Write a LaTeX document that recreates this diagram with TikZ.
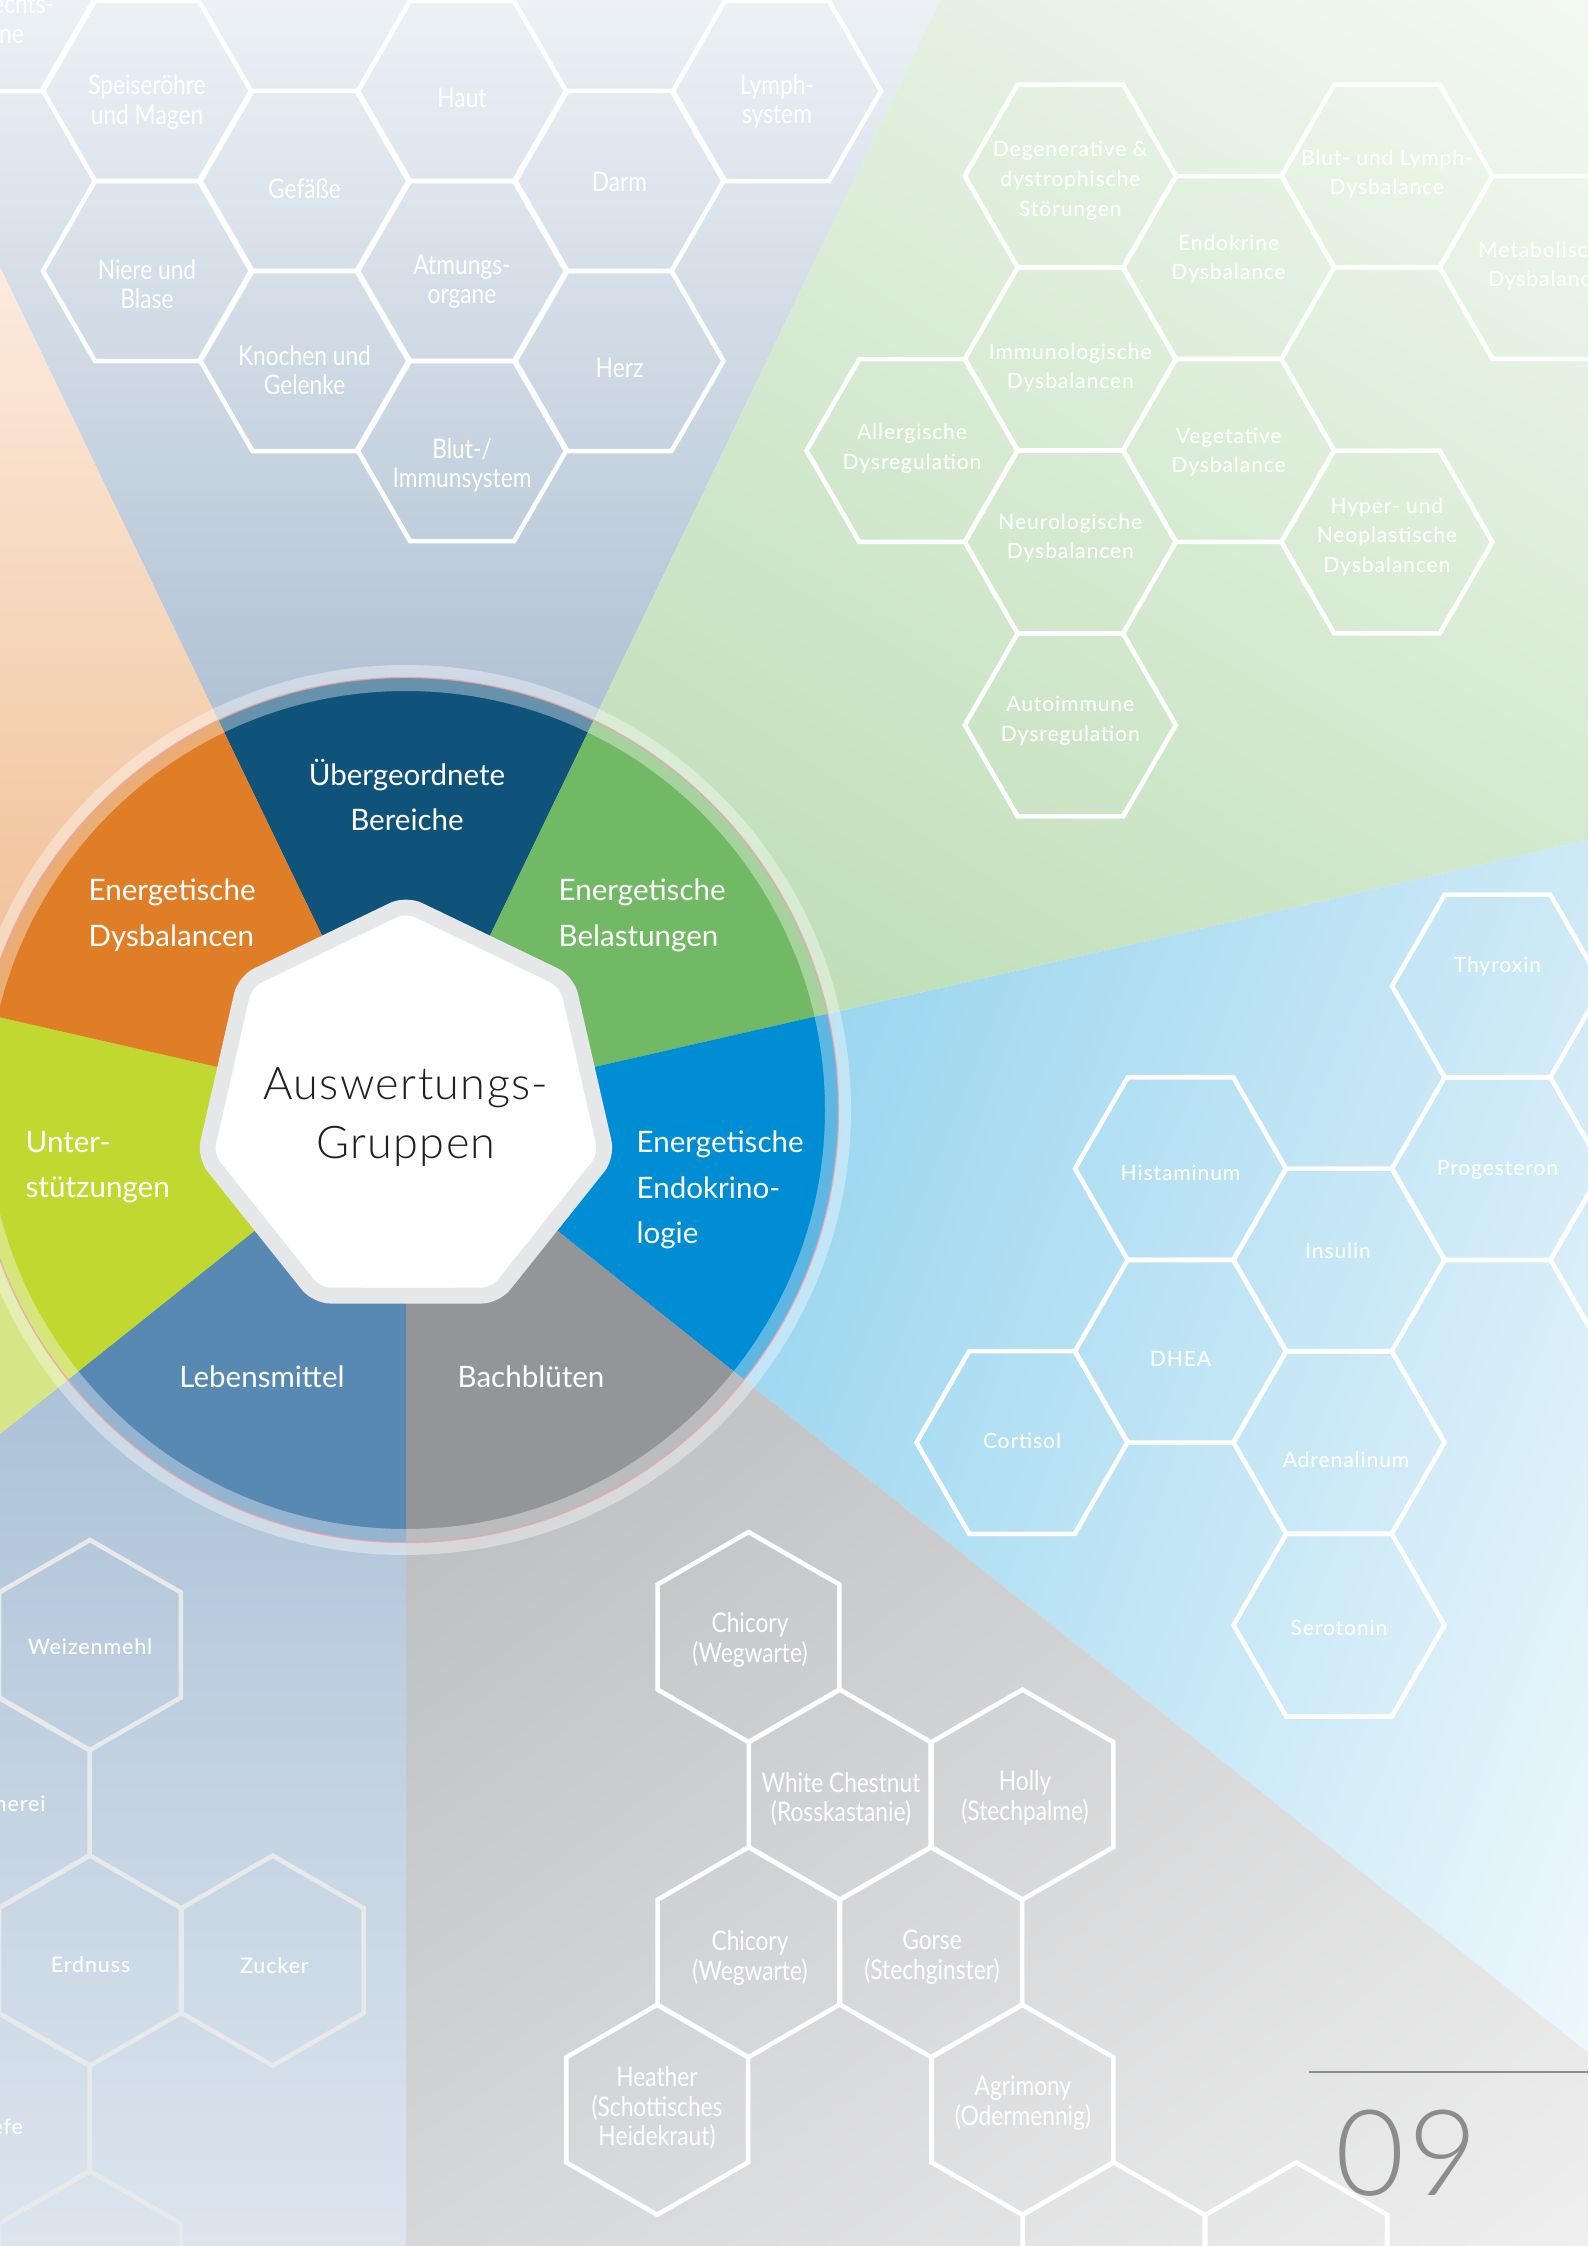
\documentclass[tikz,border=0pt]{standalone}
\usepackage{fontspec}
\setmainfont{Lato}
\newfontfamily\condfont[FakeStretch=0.84]{Lato}
\newfontfamily\widefont[LetterSpace=4]{Lato Medium}
\newfontfamily\thinfont[LetterSpace=3]{Lato Light}
\usepackage{tikz}
\usetikzlibrary{shadings}

\definecolor{segTop}{HTML}{10537A}
\definecolor{segGreen}{HTML}{71B964}
\definecolor{segBlue}{HTML}{018DD4}
\definecolor{segGray}{HTML}{939598}
\definecolor{segSteel}{HTML}{5889B3}
\definecolor{segLime}{HTML}{C1D830}
\definecolor{segOrange}{HTML}{E07E27}
\definecolor{hepGray}{HTML}{E6E7E8}
\definecolor{ringPink}{HTML}{E9A3AB}
\definecolor{numGray}{HTML}{8C8C8C}
\definecolor{foodLine}{HTML}{E9E9EA}
\definecolor{titleInk}{HTML}{231F20}
% background tints
\definecolor{bgTopA}{RGB}{237,241,245}
\definecolor{bgTopB}{RGB}{143,168,194}
\definecolor{bgGreenUL}{RGB}{217,235,213}
\definecolor{bgGreenUR}{RGB}{243,249,242}
\definecolor{bgGreenLL}{RGB}{179,216,170}
\definecolor{bgGreenLR}{RGB}{203,229,197}
\definecolor{bgBlueUL}{RGB}{120,200,235}
\definecolor{bgBlueUR}{RGB}{205,233,246}
\definecolor{bgBlueLL}{RGB}{150,213,240}
\definecolor{bgBlueLR}{RGB}{238,248,252}
\definecolor{bgGrayUL}{RGB}{176,177,179}
\definecolor{bgGrayUR}{RGB}{208,209,210}
\definecolor{bgGrayLL}{RGB}{214,215,217}
\definecolor{bgGrayLR}{RGB}{239,239,239}
\definecolor{bgSteelA}{RGB}{157,183,209}
\definecolor{bgSteelB}{RGB}{220,229,238}
\definecolor{bgLime}{RGB}{214,229,133}
\definecolor{bgOrangeA}{RGB}{252,235,222}
\definecolor{bgOrangeB}{RGB}{238,185,138}

\tikzset{
  hexedge/.style={draw=white, line width=1.3pt, line join=miter},
  foodedge/.style={hexedge, draw=foodLine},
  organtext/.style={text=white, align=center, inner sep=0pt, font=\condfont\fontsize{7.7}{8.3}\selectfont},
  dystext/.style={text=white, align=center, inner sep=0pt, font=\widefont\fontsize{6}{8.5}\selectfont},
  hormtext/.style={text=white, align=center, inner sep=0pt, font=\widefont\fontsize{6}{8.5}\selectfont},
  bachtext/.style={text=white, align=center, inner sep=0pt, font=\condfont\fontsize{7.7}{8.4}\selectfont},
  foodtext/.style={text=white, align=center, inner sep=0pt, font=\widefont\fontsize{6.1}{8.5}\selectfont},
  seglabel/.style={text=white, inner sep=0pt, font=\fontsize{8.4}{13}\selectfont},
  heptagon/.style={draw=hepGray, line width=4.5pt, fill=white, rounded corners=4pt},
  titletext/.style={text=titleInk, align=center, inner sep=0pt, font=\thinfont\fontsize{12.8}{16.8}\selectfont},
  pagenum/.style={text=numGray, inner sep=0pt, font=\thinfont\fontsize{34}{34}\selectfont}
}

\begin{document}
\begin{tikzpicture}[x=0.01cm, y=-0.01cm]
\path[use as bounding box] (0,0) rectangle (1588,2246);
\clip (0,0) rectangle (1588,2246);
\coordinate (C) at (406,1110);

% background wedges
\shade[top color=bgTopA, bottom color=bgTopB] (C) -- (0,267) -- (0,0) -- (940.6,0) -- cycle;
\shade[upper left=bgGreenUL, upper right=bgGreenUR, lower left=bgGreenLL, lower right=bgGreenLR]
  (C) -- (940.6,0) -- (1588,0) -- (1588,840.3) -- cycle;
\shade[upper left=bgBlueUL, upper right=bgBlueUR, lower left=bgBlueLL, lower right=bgBlueLR]
  (C) -- (1588,840.3) -- (1588,2052.6) -- cycle;
\shade[upper left=bgGrayUL, upper right=bgGrayUR, lower left=bgGrayLL, lower right=bgGrayLR]
  (C) -- (1588,2052.6) -- (1588,2246) -- (406,2246) -- cycle;
\shade[top color=bgSteelA, bottom color=bgSteelB] (C) -- (406,2246) -- (0,2246) -- (0,1433.8) -- cycle;
\fill[bgLime] (C) -- (0,1433.8) -- (0,1017.3) -- cycle;
\shade[top color=bgOrangeA, bottom color=bgOrangeB] (C) -- (0,1017.3) -- (0,267) -- cycle;

% Uebergeordnete Bereiche
\foreach \hx/\hy/\ty/\txt [count=\i] in {
  -10.5/1/21/{Geschlechts-\\organe},
  147/91/102/{Speiseröhre\\und Magen},
  147/271/284/{Niere und\\Blase},
  304.5/181/189/{Gefäße},
  304.5/361/370/{Knochen und\\Gelenke},
  462/91/98/{Haut},
  462/271/282/{Atmungs-\\organe},
  462/451/465/{Blut-/\\Immunsystem},
  619.5/181/182/{Darm},
  619.5/361/368/{Herz},
  777/91/101/{Lymph-\\system}}{
  \draw[hexedge] (\hx,\hy) +(0:104) -- +(60:104) -- +(120:104) -- +(180:104) -- +(240:104) -- +(300:104) -- cycle;
  \node[organtext] (organ\i) at (\hx,\ty) {\txt};
}

% Energetische Belastungen
\foreach \hx/\hy/\ty/\txt [count=\i] in {
  912/450.5/449/{Allergische\\Dysregulation},
  1070.3/176/181/{Degenerative \&\\dystrophische\\Störungen},
  1070.3/359/368/{Immunologische\\Dysbalancen},
  1070.3/542/538/{Neurologische\\Dysbalancen},
  1070.3/725/721/{Autoimmune\\Dysregulation},
  1228.6/267.5/259/{Endokrine\\Dysbalance},
  1228.6/450.5/452/{Vegetative\\Dysbalance},
  1386.9/176/174/{Blut- und Lymph-\\Dysbalance},
  1386.9/542/537/{Hyper- und\\Neoplastische\\Dysbalancen},
  1545.2/267.5/266/{Metabolische\\Dysbalance}}{
  \draw[hexedge] (\hx,\hy) +(0:105.5) -- +(60:105.5) -- +(120:105.5) -- +(180:105.5) -- +(240:105.5) -- +(300:105.5) -- cycle;
  \node[dystext] (dys\i) at (\hx,\ty) {\txt};
}

% Energetische Endokrinologie
\foreach \hx/\hy/\tx/\ty/\txt [count=\i] in {
  1497.5/986/1497.5/967/{Thyroxin},
  1497.5/1168.6/1497.5/1170/{Progesteron},
  1180.5/1168.6/1180.5/1173/{Histaminum},
  1339/1259.9/1338/1251/{Insulin},
  1180.5/1351.2/1180.5/1359/{DHEA},
  1022/1442.5/1022/1441/{Cortisol},
  1339/1442.5/1346/1460/{Adrenalinum},
  1339/1625.1/1339/1628/{Serotonin}}{
  \draw[hexedge] (\hx,\hy) +(0:105.5) -- +(60:105.5) -- +(120:105.5) -- +(180:105.5) -- +(240:105.5) -- +(300:105.5) -- cycle;
  \node[hormtext] (horm\i) at (\tx,\ty) {\txt};
}
\draw[hexedge] (1656,1259.9) +(0:105.5) -- +(60:105.5) -- +(120:105.5) -- +(180:105.5) -- +(240:105.5) -- +(300:105.5) -- cycle;

% Bachblueten
\foreach \hx/\hy/\tx/\ty/\txt [count=\i] in {
  748.5/1637/750/1640/{Chicory\\(Wegwarte)},
  839.8/1794.6/841/1799/{White Chestnut\\(Rosskastanie)},
  1022.4/1794.6/1025/1798/{Holly\\(Stechpalme)},
  748.5/1952.2/750/1958/{Chicory\\(Wegwarte)},
  931.1/1952.2/932/1957/{Gorse\\(Stechginster)},
  657.2/2109.8/657/2108/{Heather\\(Schottisches\\Heidekraut)},
  1022.4/2109.8/1023/2103/{Agrimony\\(Odermennig)}}{
  \draw[hexedge] (\hx,\hy) +(30:105) -- +(90:105) -- +(150:105) -- +(210:105) -- +(270:105) -- +(330:105) -- cycle;
  \node[bachtext] (bach\i) at (\tx,\ty) {\txt};
}
\foreach \hx in {1113.7, 1296.3}
  \draw[hexedge] (\hx,2267.4) +(30:105) -- +(90:105) -- +(150:105) -- +(210:105) -- +(270:105) -- +(330:105) -- cycle;

% Lebensmittel
\foreach \hx/\hy/\tx/\ty/\txt [count=\i] in {
  90/1645/90/1647/{Weizenmehl},
  -1.3/1802.8/-1.3/1804/{Hühnerei},
  90/1960.6/90.6/1965/{Erdnuss},
  272.6/1960.6/274.5/1966/{Zucker},
  -1.3/2118.4/-1.3/2127/{Hefe}}{
  \draw[foodedge] (\hx,\hy) +(30:105) -- +(90:105) -- +(150:105) -- +(210:105) -- +(270:105) -- +(330:105) -- cycle;
  \node[foodtext] (food\i) at (\tx,\ty) {\txt};
}
\draw[foodedge] (90,2276.2) +(30:105) -- +(90:105) -- +(150:105) -- +(210:105) -- +(270:105) -- +(330:105) -- cycle;

% wheel
\foreach \a/\col in {-115.71/segTop, -64.29/segGreen, -12.86/segBlue, 38.57/segGray,
  90/segSteel, 141.43/segLime, 192.86/segOrange}
  \fill[\col] (C) -- ++(\a:432.5) arc[start angle=\a, end angle=\a+51.43, radius=432.5] -- cycle;
\fill[white, opacity=0.37, even odd rule] (C) circle (445) (C) circle (419);
\draw[ringPink, line width=0.4pt, opacity=0.8] (C) circle (432.5);

\node[seglabel, align=center] (lblTop) at (407,795) {Übergeordnete\\Bereiche};
\node[seglabel, align=left, anchor=west] (lblDys) at (88,915) {Energetische\\Dysbalancen};
\node[seglabel, align=left, anchor=west] (lblBel) at (558,915) {Energetische\\Belastungen};
\node[seglabel, align=left, anchor=west] (lblUnt) at (25,1167) {Unter-\\stützungen};
\node[seglabel, align=left, anchor=west] (lblEnd) at (636,1190) {Energetische\\Endokrino-\\logie};
\node[seglabel] (lblLeb) at (262,1377) {Lebensmittel};
\node[seglabel] (lblBach) at (531,1377) {Bachblüten};

% centre
\draw[heptagon] (C) +(90:185.7) -- +(115.71:206) -- +(167.14:206) -- +(218.57:206) -- +(270:206)
  -- +(321.43:206) -- +(12.86:206) -- +(64.29:206) -- cycle;
\node[titletext] (title) at (406,1117) {Auswertungs-\\Gruppen};

% page number
\draw[numGray, line width=0.5pt] (1309,2072) -- (1588,2072);
\node[pagenum] (page) at (1407,2153) {09};
\end{tikzpicture}
\end{document}
